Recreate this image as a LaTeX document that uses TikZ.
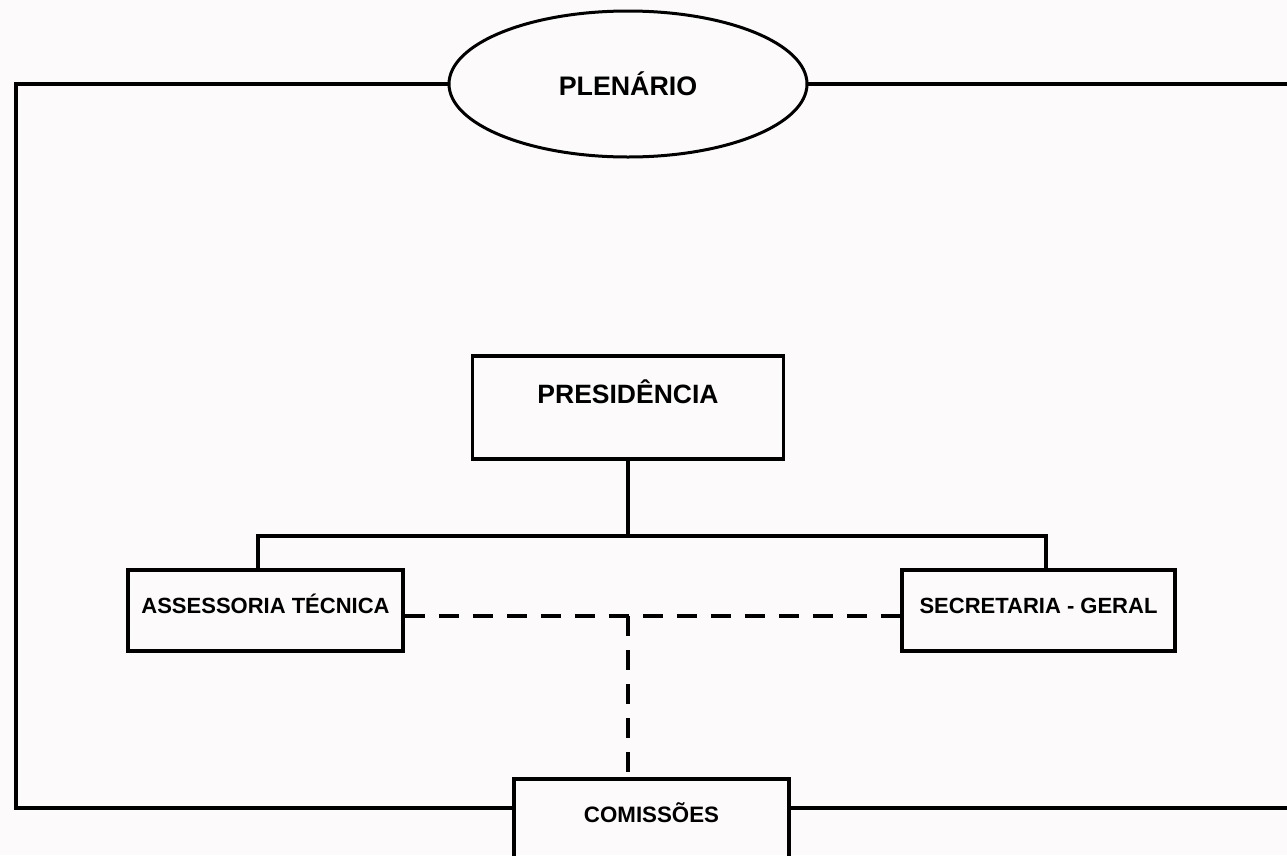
\documentclass[tikz,border=0pt]{standalone}
\usepackage{fontspec}
\setmainfont{Liberation Sans}
\usepackage{xcolor}
\usetikzlibrary{shapes.geometric, positioning, calc}

\definecolor{fundo}{RGB}{252,250,250}

\begin{document}
\begin{tikzpicture}[x=1pt, y=-1pt,
    linha/.style={line width=3.8pt, line cap=rect},
    tracejado/.style={line width=4.6pt, dash pattern=on 20pt off 14pt},
    caixa/.style={draw, rectangle, line width=3.8pt, inner sep=0pt, anchor=north,
        font=\fontsize{22}{26}\selectfont\bfseries}]
    % fundo e limites
    \clip (0,0) rectangle (1287,855);
    \fill[fundo] (0,0) rectangle (1287,855);

    % nós
    \node[draw, ellipse, line width=3pt, minimum width=358pt, minimum height=146pt, inner sep=0pt,
        font=\fontsize{26.8}{30}\selectfont\bfseries] (plen) at (628,84) {PLENÁRIO};
    \node[caixa, minimum width=311pt, text height=48pt, text depth=55pt,
        font=\fontsize{26.5}{30}\selectfont\bfseries] (pres) at (628,354) {PRESIDÊNCIA};
    \node[caixa, minimum width=275pt, text height=44pt, text depth=37pt] (asses) at (265.5,568) {ASSESSORIA TÉCNICA};
    \node[caixa, minimum width=273pt, text height=44pt, text depth=37pt] (sec) at (1038.5,568) {SECRETARIA - GERAL};
    \node[caixa, minimum width=275pt, text height=44pt, text depth=60pt,
        font=\fontsize{22.3}{26}\selectfont\bfseries] (com) at (651.5,777) {COMISSÕES};

    % pontos auxiliares
    \coordinate (cantoS) at (16,84);
    \coordinate (cantoI) at (16,808);
    \coordinate (fimS) at (1300,84);
    \coordinate (fimI) at (1300,808);
    \coordinate (barra) at (628,536);
    \coordinate (barraE) at (258,536);
    \coordinate (barraD) at (1046,536);
    \coordinate (tr) at (628,616);

    % moldura do plenário
    \draw[linha] (plen.west) -- (cantoS) -- (cantoI) -- (com.west |- cantoI);
    \draw[linha] (plen.east) -- (fimS);
    \draw[linha] (com.east |- cantoI) -- (fimI);

    % presidência
    \draw[linha] (pres.south) -- (barra);
    \draw[linha] (asses.north -| barraE) -- (barraE) -- (barraD) -- (sec.north -| barraD);

    % ligações tracejadas
    \draw[tracejado] (asses.east |- tr) -- (sec.west |- tr);
    \draw[tracejado] (tr) -- (tr |- com.north);
\end{tikzpicture}
\end{document}
